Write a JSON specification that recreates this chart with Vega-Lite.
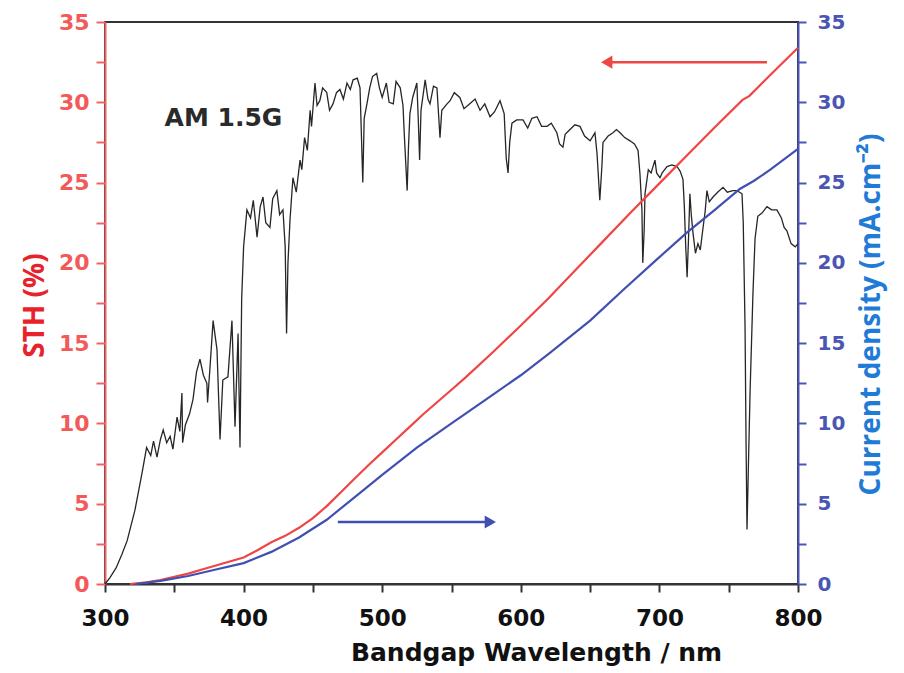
{
  "$schema": "https://vega.github.io/schema/vega-lite/v6.json",
  "width": 693,
  "height": 562,
  "autosize": {"type": "none"},
  "padding": {"left": 105, "top": 22, "right": 106, "bottom": 89},
  "background": "white",
  "config": {"view": {"stroke": "#333333", "strokeWidth": 2}},
  "datasets": {
    "spectrum": [
      {"wl":300,"v":0},{"wl":303.6,"v":0.4},{"wl":308,"v":1.0},{"wl":312,"v":1.8},{"wl":316,"v":2.7},{"wl":321.6,"v":4.6},{"wl":326.7,"v":6.9},{"wl":330,"v":8.5},{"wl":333,"v":8.0},{"wl":335,"v":8.9},{"wl":337.5,"v":7.9},{"wl":340,"v":9.0},{"wl":342,"v":9.6},{"wl":344.5,"v":8.8},{"wl":347,"v":9.2},{"wl":349,"v":8.4},{"wl":352,"v":10.4},{"wl":354,"v":9.5},{"wl":355.5,"v":11.9},{"wl":356,"v":8.8},{"wl":358,"v":9.9},{"wl":361,"v":10.6},{"wl":363.5,"v":11.5},{"wl":366,"v":13.2},{"wl":368.5,"v":14.0},{"wl":371,"v":13.0},{"wl":373.5,"v":12.5},{"wl":374,"v":11.3},{"wl":376,"v":13.8},{"wl":378,"v":16.4},{"wl":380.8,"v":14.6},{"wl":383,"v":9.0},{"wl":385,"v":12.7},{"wl":388.7,"v":12.9},{"wl":391.6,"v":16.4},{"wl":393.8,"v":9.8},{"wl":396,"v":15.6},{"wl":397.4,"v":8.5},{"wl":398.6,"v":17.7},{"wl":400,"v":21.0},{"wl":402.4,"v":23.3},{"wl":405,"v":22.8},{"wl":407,"v":23.9},{"wl":409.7,"v":21.6},{"wl":412,"v":23.5},{"wl":414,"v":24.1},{"wl":416,"v":22.5},{"wl":419,"v":22.2},{"wl":421,"v":24.0},{"wl":424,"v":24.5},{"wl":426,"v":23.0},{"wl":428.4,"v":23.3},{"wl":430,"v":21.0},{"wl":431,"v":15.6},{"wl":432,"v":20.0},{"wl":433.5,"v":22.7},{"wl":435.6,"v":25.3},{"wl":438,"v":24.4},{"wl":440.7,"v":26.4},{"wl":442,"v":25.8},{"wl":444,"v":27.8},{"wl":446,"v":27.0},{"wl":448,"v":29.5},{"wl":449,"v":28.5},{"wl":451.5,"v":31.2},{"wl":453,"v":29.8},{"wl":455,"v":30.1},{"wl":457,"v":30.9},{"wl":460,"v":30.6},{"wl":462,"v":29.5},{"wl":464.5,"v":29.9},{"wl":467,"v":30.6},{"wl":469.5,"v":30.8},{"wl":472,"v":30.2},{"wl":474.6,"v":31.2},{"wl":477,"v":30.8},{"wl":479,"v":31.4},{"wl":482,"v":31.5},{"wl":484,"v":30.9},{"wl":486,"v":25.0},{"wl":487,"v":29.0},{"wl":489,"v":29.9},{"wl":491,"v":30.9},{"wl":493,"v":31.6},{"wl":496,"v":31.8},{"wl":498,"v":30.9},{"wl":500,"v":30.3},{"wl":503,"v":31.2},{"wl":505,"v":30.0},{"wl":508,"v":29.9},{"wl":510,"v":31.3},{"wl":513,"v":30.9},{"wl":515,"v":29.8},{"wl":516,"v":27.9},{"wl":518,"v":24.5},{"wl":519,"v":27.3},{"wl":520,"v":29.3},{"wl":522,"v":30.3},{"wl":525,"v":31.2},{"wl":526,"v":29.0},{"wl":527,"v":26.4},{"wl":528,"v":29.5},{"wl":531,"v":31.4},{"wl":533,"v":30.2},{"wl":534.5,"v":29.9},{"wl":537,"v":31.0},{"wl":539.5,"v":30.9},{"wl":541.7,"v":27.8},{"wl":543,"v":29.5},{"wl":546.8,"v":29.9},{"wl":549,"v":30.1},{"wl":552,"v":30.6},{"wl":556,"v":30.3},{"wl":559,"v":29.6},{"wl":563,"v":29.9},{"wl":567,"v":30.2},{"wl":570.6,"v":29.5},{"wl":574,"v":29.9},{"wl":577.8,"v":29.1},{"wl":581,"v":29.4},{"wl":585,"v":30.1},{"wl":588,"v":29.3},{"wl":589.5,"v":26.5},{"wl":590.8,"v":25.6},{"wl":592,"v":27.5},{"wl":593.6,"v":28.7},{"wl":597,"v":28.9},{"wl":601.6,"v":28.9},{"wl":605,"v":28.4},{"wl":608,"v":29.0},{"wl":611.7,"v":29.1},{"wl":615,"v":28.5},{"wl":618.9,"v":28.5},{"wl":622,"v":28.7},{"wl":626,"v":28.1},{"wl":628,"v":27.4},{"wl":630.4,"v":27.2},{"wl":632,"v":28.0},{"wl":635.5,"v":28.3},{"wl":639,"v":28.6},{"wl":642.7,"v":28.5},{"wl":646,"v":27.9},{"wl":650,"v":27.6},{"wl":653.5,"v":28.1},{"wl":655,"v":26.8},{"wl":657,"v":23.9},{"wl":658.5,"v":26.0},{"wl":659.3,"v":27.5},{"wl":663,"v":27.9},{"wl":666.5,"v":28.1},{"wl":669,"v":28.3},{"wl":671.6,"v":28.1},{"wl":675,"v":27.8},{"wl":678.8,"v":27.6},{"wl":682,"v":27.4},{"wl":684.6,"v":27.0},{"wl":686,"v":25.5},{"wl":687.4,"v":23.3},{"wl":688,"v":20.0},{"wl":689,"v":22.0},{"wl":689.6,"v":24.3},{"wl":692,"v":25.8},{"wl":694,"v":25.6},{"wl":696.8,"v":26.4},{"wl":698,"v":25.6},{"wl":700.4,"v":25.3},{"wl":702,"v":25.6},{"wl":705.5,"v":26.0},{"wl":709,"v":26.1},{"wl":712.7,"v":26.0},{"wl":715,"v":25.7},{"wl":717,"v":25.2},{"wl":718,"v":23.5},{"wl":719,"v":21.0},{"wl":720,"v":19.1},{"wl":721,"v":21.5},{"wl":722,"v":24.3},{"wl":723,"v":23.0},{"wl":724.2,"v":21.9},{"wl":726,"v":20.6},{"wl":727.8,"v":21.2},{"wl":729.5,"v":20.8},{"wl":731.5,"v":22.2},{"wl":733,"v":23.2},{"wl":734.3,"v":24.5},{"wl":736,"v":23.8},{"wl":738.7,"v":24.1},{"wl":742,"v":24.4},{"wl":745.9,"v":24.7},{"wl":749,"v":24.4},{"wl":753,"v":24.5},{"wl":756,"v":24.5},{"wl":759.6,"v":24.3},{"wl":760.5,"v":22.5},{"wl":761.8,"v":16.0},{"wl":762.5,"v":9.0},{"wl":763.2,"v":3.4},{"wl":764,"v":6.5},{"wl":765.4,"v":11.9},{"wl":767.5,"v":18.1},{"wl":769,"v":21.5},{"wl":771,"v":22.9},{"wl":774,"v":23.1},{"wl":777.6,"v":23.5},{"wl":781,"v":23.3},{"wl":784.8,"v":23.3},{"wl":788,"v":22.8},{"wl":790,"v":22.2},{"wl":792,"v":22.0},{"wl":795,"v":21.2},{"wl":798,"v":21.0},{"wl":800,"v":21.2}
    ],
    "sth": [
      {"wl":318,"v":0},{"wl":330,"v":0.1},{"wl":340,"v":0.25},{"wl":350,"v":0.45},{"wl":360,"v":0.65},{"wl":370,"v":0.9},{"wl":380,"v":1.15},{"wl":390,"v":1.4},{"wl":400,"v":1.65},{"wl":410,"v":2.1},{"wl":420,"v":2.6},{"wl":430,"v":3.0},{"wl":440,"v":3.5},{"wl":450,"v":4.1},{"wl":460,"v":4.85},{"wl":470,"v":5.7},{"wl":480,"v":6.55},{"wl":490,"v":7.4},{"wl":500,"v":8.2},{"wl":510,"v":9.0},{"wl":520,"v":9.8},{"wl":530,"v":10.6},{"wl":540,"v":11.35},{"wl":550,"v":12.1},{"wl":560,"v":12.85},{"wl":580,"v":14.45},{"wl":600,"v":16.1},{"wl":620,"v":17.8},{"wl":640,"v":19.6},{"wl":660,"v":21.4},{"wl":680,"v":23.2},{"wl":700,"v":24.95},{"wl":720,"v":26.7},{"wl":740,"v":28.45},{"wl":760,"v":30.15},{"wl":765,"v":30.4},{"wl":780,"v":31.7},{"wl":800,"v":33.4}
    ],
    "jd": [
      {"wl":322,"v":0},{"wl":340,"v":0.2},{"wl":360,"v":0.5},{"wl":380,"v":0.9},{"wl":400,"v":1.3},{"wl":420,"v":2.0},{"wl":440,"v":2.9},{"wl":460,"v":4.0},{"wl":480,"v":5.4},{"wl":500,"v":6.8},{"wl":525,"v":8.5},{"wl":550,"v":10.0},{"wl":575,"v":11.5},{"wl":600,"v":13.0},{"wl":621,"v":14.4},{"wl":650,"v":16.4},{"wl":675,"v":18.4},{"wl":698,"v":20.2},{"wl":720,"v":21.9},{"wl":740,"v":23.3},{"wl":758,"v":24.6},{"wl":768,"v":25.1},{"wl":780,"v":25.8},{"wl":800,"v":27.1}
    ]
  },
  "encoding": {
    "x": {
      "field": "wl", "type": "quantitative",
      "scale": {"domain": [300, 800], "nice": false, "zero": false},
      "axis": {
        "values": [300,350,400,450,500,550,600,650,700,750,800],
        "labelExpr": "datum.value % 100 === 0 ? datum.label : ''",
        "grid": false,
        "domainColor": "#333333", "domainWidth": 2,
        "tickColor": "#333333", "tickWidth": 2, "tickSize": 8,
        "labelFont": "DejaVu Sans", "labelFontWeight": "bold", "labelFontSize": 23,
        "labelColor": "#111111", "labelPadding": 15, "labelFlush": false,
        "title": "Bandgap Wavelength / nm",
        "titleFont": "DejaVu Sans", "titleFontWeight": "bold", "titleFontSize": 25,
        "titleColor": "#111111", "titleX": 431, "titleY": 76,
        "titleAlign": "center", "titleBaseline": "alphabetic"
      }
    }
  },
  "layer": [
    {
      "encoding": {
        "y": {
          "field": "v", "type": "quantitative",
          "scale": {"domain": [0, 35], "nice": false, "zero": true},
          "axis": {
            "orient": "left",
            "values": [0,2.5,5,7.5,10,12.5,15,17.5,20,22.5,25,27.5,30,32.5,35],
            "labelExpr": "datum.value % 5 === 0 ? datum.label : ''",
            "grid": false,
            "domainColor": "#f06464", "domainWidth": 2,
            "tickColor": "#f06464", "tickWidth": 2, "tickSize": 9,
            "labelFont": "DejaVu Sans", "labelFontWeight": "bold", "labelFontSize": 22,
            "labelColor": "#f25a5a", "labelPadding": 7, "labelFlush": false,
            "title": "STH (%)",
            "titleFont": "Open Sans", "titleFontWeight": "bold", "titleFontSize": 28,
            "titleColor": "#e8222a", "titleAngle": -90, "titleX": -70, "titleY": 283,
            "titleAlign": "center", "titleBaseline": "middle"
          }
        }
      },
      "layer": [
        {
          "data": {"name": "spectrum"},
          "mark": {"type": "line", "color": "#262626", "strokeWidth": 1.3, "interpolate": "linear"}
        },
        {
          "data": {"name": "sth"},
          "mark": {"type": "line", "color": "#f04545", "strokeWidth": 2.2}
        },
        {
          "data": {"name": "sth"},
          "mark": {"type": "text", "text": "AM 1.5G", "font": "DejaVu Sans", "fontWeight": "bold", "fontSize": 25, "color": "#2a2a2a", "align": "left", "baseline": "alphabetic"},
          "transform": [{"filter": "datum.wl === 800"}],
          "encoding": {"x": {"datum": 343}, "y": {"datum": 28.5}}
        },
        {
          "data": {"name": "sth"},
          "transform": [{"filter": "datum.wl === 800"}],
          "mark": {"type": "rule", "color": "#f04545", "strokeWidth": 2.5},
          "encoding": {"x": {"datum": 664}, "x2": {"datum": 777.6}, "y": {"datum": 32.5}}
        },
        {
          "data": {"name": "sth"},
          "transform": [{"filter": "datum.wl === 800"}],
          "mark": {"type": "point", "shape": "triangle-left", "filled": true, "opacity": 1, "size": 170, "color": "#f04545"},
          "encoding": {"x": {"datum": 662}, "y": {"datum": 32.5}}
        }
      ]
    },
    {
      "encoding": {
        "y": {
          "field": "v", "type": "quantitative",
          "scale": {"domain": [0, 35], "nice": false, "zero": true},
          "axis": {
            "orient": "right",
            "values": [0,2.5,5,7.5,10,12.5,15,17.5,20,22.5,25,27.5,30,32.5,35],
            "labelExpr": "datum.value % 5 === 0 ? datum.label : ''",
            "grid": false,
            "domainColor": "#4a55b5", "domainWidth": 2,
            "tickColor": "#4a55b5", "tickWidth": 2, "tickSize": 8,
            "labelFont": "DejaVu Sans", "labelFontWeight": "bold", "labelFontSize": 20,
            "labelColor": "#4b56b3", "labelPadding": 11, "labelFlush": false,
            "title": "Current density (mA.cm⁻²)",
            "titleFont": "Open Sans", "titleFontWeight": "bold", "titleFontSize": 28,
            "titleColor": "#1f7bd6", "titleAngle": -90, "titleX": 73, "titleY": 292,
            "titleAlign": "center", "titleBaseline": "middle"
          }
        }
      },
      "layer": [
        {
          "data": {"name": "jd"},
          "mark": {"type": "line", "color": "#4050b2", "strokeWidth": 2.2}
        },
        {
          "data": {"name": "jd"},
          "transform": [{"filter": "datum.wl === 800"}],
          "mark": {"type": "rule", "color": "#4050b2", "strokeWidth": 2.5},
          "encoding": {"x": {"datum": 468}, "x2": {"datum": 577}, "y": {"datum": 3.86}}
        },
        {
          "data": {"name": "jd"},
          "transform": [{"filter": "datum.wl === 800"}],
          "mark": {"type": "point", "shape": "triangle-right", "filled": true, "opacity": 1, "size": 170, "color": "#4050b2"},
          "encoding": {"x": {"datum": 578}, "y": {"datum": 3.86}}
        }
      ]
    }
  ],
  "resolve": {"scale": {"y": "independent"}}
}
